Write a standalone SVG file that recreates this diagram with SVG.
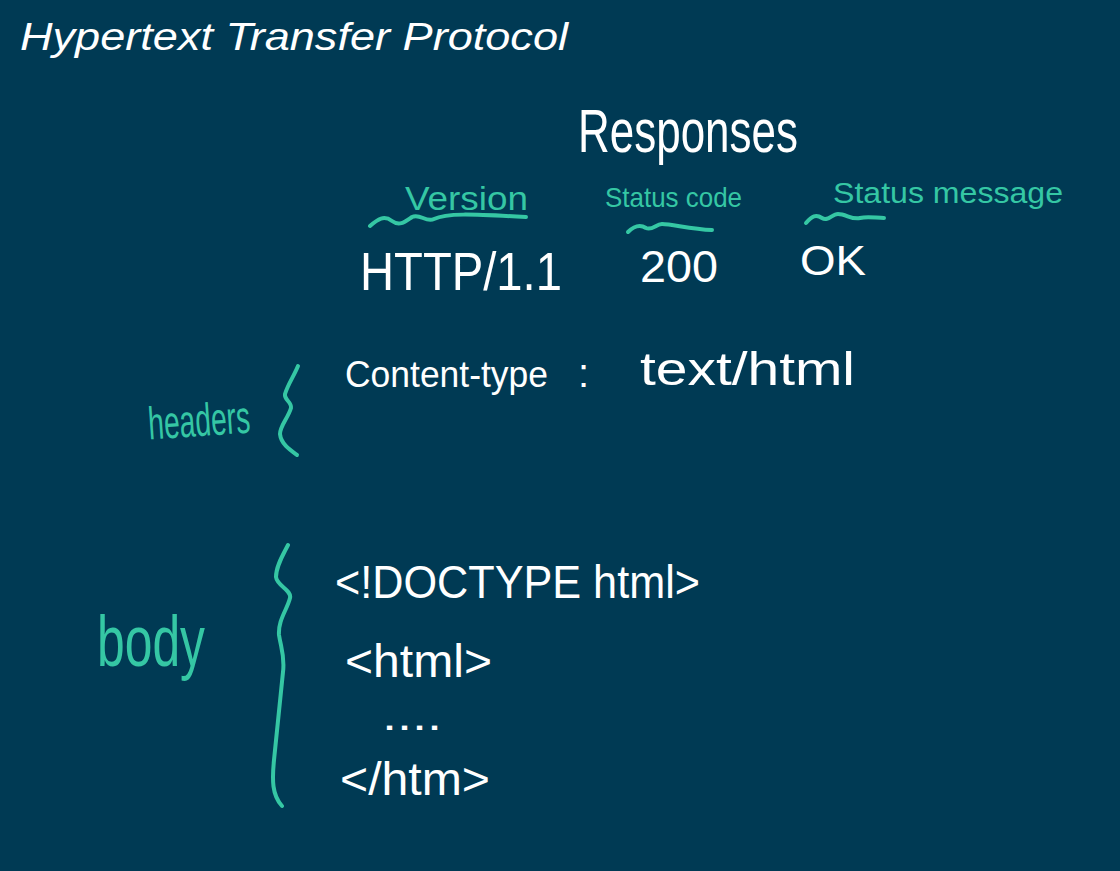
<svg xmlns="http://www.w3.org/2000/svg" width="1120" height="871" viewBox="0 0 1120 871">
<style>
.bg{fill:#003a54}
.w{fill:#ffffff;font-family:"Liberation Sans Narrow","Liberation Sans",sans-serif}
.t{fill:#35c7a4;font-family:"Liberation Sans Narrow","Liberation Sans",sans-serif}
.ln{fill:none;stroke:#35c7a4;stroke-width:4;stroke-linecap:round;stroke-linejoin:round}
.title{fill:#ffffff;font-family:"Liberation Sans",Arial,sans-serif;font-style:italic;font-size:38px}
</style>
<rect class="bg" x="0" y="0" width="1120" height="871"/>
<g id="title"><text class="title" x="20" y="50" textLength="548" lengthAdjust="spacingAndGlyphs">Hypertext Transfer Protocol</text></g>
<g id="responses"><text class="w" x="578" y="152" font-size="62" textLength="220" lengthAdjust="spacingAndGlyphs">Responses</text></g>
<g id="version">
<text class="t" x="405" y="210" font-size="34" textLength="123" lengthAdjust="spacingAndGlyphs">Version</text>
<path class="ln" d="M370 226 C378 219 384 215 392 221 C400 227 406 221 412 217 C420 213 426 223 434 219 C446 213 470 214 526 217"/>
</g>
<g id="status-code">
<text class="t" x="605" y="207" font-size="28" textLength="137" lengthAdjust="spacingAndGlyphs">Status code</text>
<path class="ln" d="M628 232 C634 226 640 224 646 228 C652 231 656 224 662 224 C672 224 690 229 712 230"/>
</g>
<g id="status-message">
<text class="t" x="833" y="203" font-size="30" textLength="230" lengthAdjust="spacingAndGlyphs">Status message</text>
<path class="ln" d="M806 223 C812 216 816 214 822 218 C828 222 832 214 838 214 C846 214 852 220 860 218 C868 216 876 218 884 218"/>
</g>
<g id="http-version"><text class="w" x="360" y="290" font-size="54" textLength="202" lengthAdjust="spacingAndGlyphs">HTTP/1.1</text></g>
<g id="code-200"><text class="w" x="640" y="282" font-size="44" textLength="78" lengthAdjust="spacingAndGlyphs">200</text></g>
<g id="msg-ok"><text class="w" x="800" y="275" font-size="42" textLength="66" lengthAdjust="spacingAndGlyphs">OK</text></g>
<g id="header-line">
<text x="345" y="387" font-size="36" fill="#ffffff" font-family="Liberation Sans, sans-serif" textLength="203" lengthAdjust="spacingAndGlyphs">Content-type</text>
<text class="w" x="578" y="387" font-size="40">:</text>
<text class="w" x="640" y="385" font-size="46" textLength="215" lengthAdjust="spacingAndGlyphs">text/html</text>
</g>
<g id="headers">
<text class="t" x="148" y="436" font-size="46" textLength="102" lengthAdjust="spacingAndGlyphs" transform="rotate(-4 200 420)">headers</text>
<path class="ln" d="M298 366 C294 376 288 384 285 394 C284 400 292 402 291 408 C288 418 280 426 280 434 C281 444 290 450 297 455"/>
</g>
<g id="body">
<text class="t" x="97" y="666" font-size="72" textLength="108" lengthAdjust="spacingAndGlyphs">body</text>
<path class="ln" d="M288 545 C283 555 276 566 276 577 C277 586 292 590 290 598 C287 610 278 620 279 635 C281 648 285 656 283 672 C280 700 277 730 274 760 C272 780 272 795 282 806"/>
</g>
<g id="body-lines">
<text class="w" x="335" y="598" font-size="46" textLength="365" lengthAdjust="spacingAndGlyphs">&lt;!DOCTYPE html&gt;</text>
<text class="w" x="345" y="677" font-size="46" textLength="147" lengthAdjust="spacingAndGlyphs">&lt;html&gt;</text>
<text class="w" x="382" y="730" font-size="40" textLength="60" lengthAdjust="spacingAndGlyphs">....</text>
<text class="w" x="340" y="795" font-size="46" textLength="150" lengthAdjust="spacingAndGlyphs">&lt;/htm&gt;</text>
</g>
</svg>
